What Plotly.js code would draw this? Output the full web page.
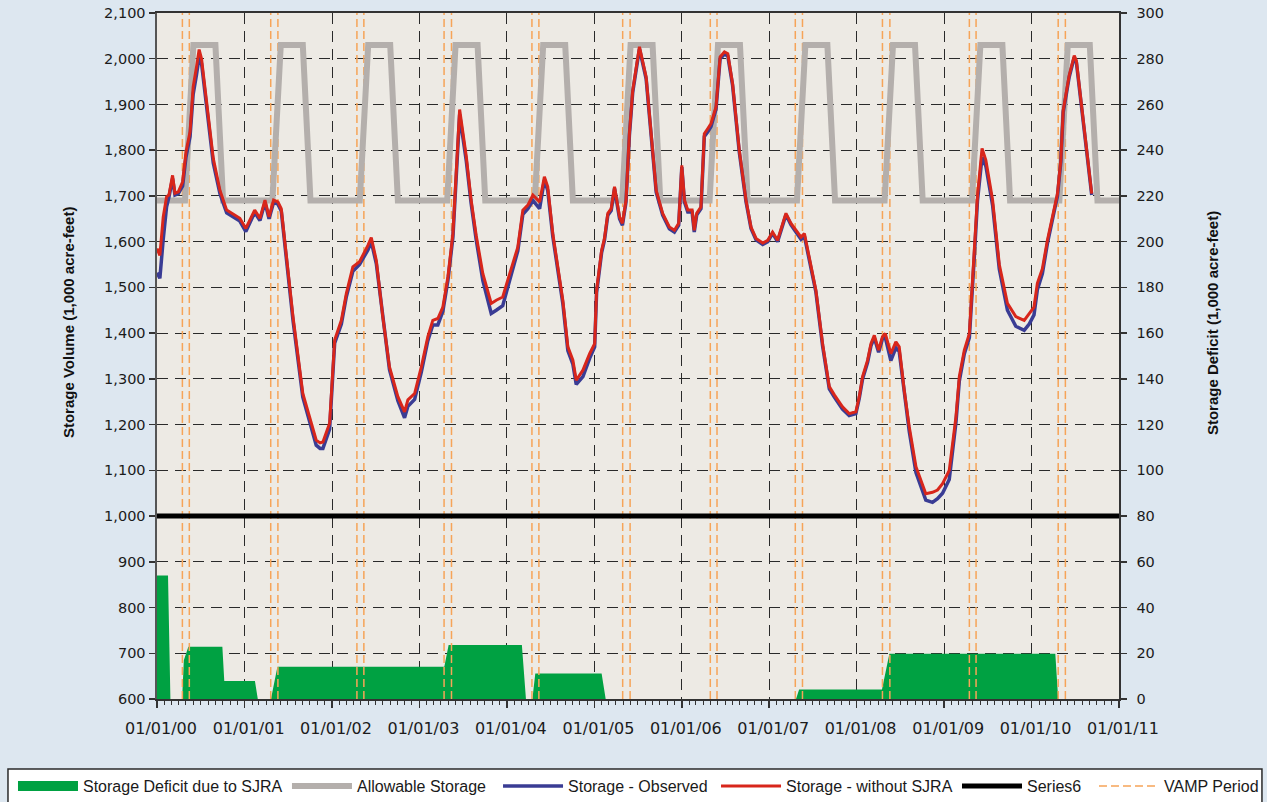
<!DOCTYPE html>
<html><head><meta charset="utf-8">
<script src="https://cdn.plot.ly/plotly-3.0.1.min.js"></script>
<style>html,body{margin:0;padding:0;background:#dde7f0;} #chart{width:1267px;height:802px;}</style>
</head><body><div id="chart"></div>
<script>
// ---------- DATA ----------
const dates = ['2000-01-01','2000-01-13','2000-01-27','2000-02-10','2000-02-20','2000-03-06','2000-03-16','2000-03-30','2000-04-17','2000-05-01','2000-05-18','2000-05-31','2000-06-14','2000-06-25','2000-07-05','2000-07-26','2000-08-23','2000-09-20','2000-10-18','2000-12-12',
'2001-01-06','2001-02-12','2001-03-06','2001-03-27','2001-04-13','2001-05-02','2001-05-20','2001-06-03','2001-06-24','2001-07-22','2001-09-01','2001-09-29','2001-10-27','2001-11-12','2001-11-24','2001-12-22',
'2002-01-12','2002-02-09','2002-03-02','2002-03-29','2002-04-26','2002-05-31','2002-06-14','2002-07-05','2002-08-01','2002-08-29','2002-10-03','2002-10-31','2002-11-14','2002-12-12',
'2003-01-09','2003-02-05','2003-02-26','2003-03-19','2003-04-09','2003-04-30','2003-05-21','2003-06-18','2003-06-25','2003-07-16','2003-08-05','2003-08-26','2003-09-23','2003-10-28','2003-11-18','2003-12-15',
'2004-01-05','2004-01-26','2004-02-16','2004-03-08','2004-03-29','2004-04-19','2004-05-17','2004-06-06','2004-06-20','2004-07-11','2004-07-25','2004-08-22','2004-09-12','2004-10-03','2004-10-17','2004-11-14','2004-12-12',
'2005-01-02','2005-01-10','2005-01-31','2005-02-12','2005-02-26','2005-03-12','2005-03-26','2005-04-16','2005-04-28','2005-05-13','2005-05-27','2005-06-10','2005-06-24','2005-07-08','2005-08-05','2005-08-26','2005-09-16','2005-10-13','2005-11-10','2005-12-01','2005-12-19',
'2006-01-01','2006-01-12','2006-01-26','2006-02-13','2006-02-22','2006-03-04','2006-03-22','2006-04-05','2006-04-19','2006-05-03','2006-05-24','2006-06-10','2006-06-28','2006-07-12','2006-08-01','2006-08-29','2006-09-26','2006-10-17','2006-11-07','2006-12-05','2006-12-26',
'2007-01-15','2007-02-05','2007-02-26','2007-03-12','2007-04-02','2007-04-23','2007-05-14','2007-05-28','2007-06-18','2007-07-15','2007-08-12','2007-09-09','2007-09-30','2007-11-03','2007-12-01','2007-12-29',
'2008-01-12','2008-01-26','2008-02-16','2008-03-01','2008-03-15','2008-04-02','2008-04-18','2008-04-30','2008-05-23','2008-06-13','2008-06-27','2008-07-18','2008-08-08','2008-09-05','2008-10-16','2008-11-13','2008-12-04','2008-12-25',
'2009-01-22','2009-02-19','2009-03-05','2009-03-26','2009-04-16','2009-05-07','2009-05-20','2009-06-08','2009-06-24','2009-07-22','2009-08-19','2009-09-22','2009-10-27','2009-12-01','2009-12-22',
'2010-01-11','2010-01-25','2010-02-15','2010-03-08','2010-03-29','2010-04-19','2010-05-03','2010-05-13','2010-06-07','2010-06-28','2010-07-07','2010-07-26','2010-08-15','2010-09-09'];

const withoutSJRA = [1585,1570,1654,1698,1702,1745,1706,1709,1731,1796,1840,1938,1982,2020,2000,1909,1782,1712,1669,1651,
1629,1669,1651,1691,1654,1691,1687,1672,1567,1436,1268,1217,1166,1160,1162,1203,
1385,1428,1487,1545,1556,1592,1609,1559,1436,1326,1261,1228,1254,1268,
1326,1392,1428,1432,1457,1523,1618,1889,1862,1785,1691,1614,1530,1465,1472,1479,
1516,1552,1588,1669,1680,1702,1687,1742,1720,1618,1570,1472,1370,1341,1297,1319,1355,
1377,1494,1581,1607,1662,1672,1720,1654,1640,1691,1836,1931,1982,2026,1960,1836,1712,1662,1632,1625,1640,
1767,1691,1669,1669,1625,1662,1676,1836,1847,1858,1895,2004,2015,2011,1946,1800,1691,1632,1607,1597,1603,
1621,1603,1640,1662,1640,1625,1610,1618,1567,1494,1377,1283,1265,1239,1224,1228,
1261,1305,1341,1377,1395,1363,1392,1399,1355,1381,1370,1275,1195,1108,1049,1052,1057,1071,
1100,1217,1305,1363,1399,1581,1700,1804,1778,1691,1550,1465,1436,1428,1443,
1457,1509,1541,1603,1654,1705,1778,1887,1964,2007,1996,1909,1822,1705];

const observed = [1532,1520,1605,1676,1698,1738,1702,1705,1722,1785,1830,1922,1965,2004,1990,1898,1772,1705,1663,1645,
1622,1664,1646,1686,1650,1686,1682,1667,1560,1428,1260,1208,1155,1148,1148,1190,
1378,1420,1480,1535,1550,1582,1600,1552,1430,1320,1252,1215,1240,1255,
1315,1383,1418,1418,1448,1515,1610,1878,1852,1776,1684,1605,1515,1443,1450,1460,
1500,1540,1580,1660,1672,1690,1672,1735,1712,1612,1563,1465,1362,1332,1288,1305,1345,
1370,1488,1576,1603,1658,1668,1716,1650,1636,1687,1832,1927,1978,2022,1956,1832,1708,1658,1628,1621,1636,
1763,1687,1665,1665,1621,1658,1672,1830,1840,1852,1890,2000,2010,2006,1942,1796,1688,1629,1604,1594,1600,
1618,1600,1637,1659,1637,1620,1605,1612,1562,1490,1372,1278,1260,1234,1220,1224,
1257,1300,1336,1372,1390,1358,1387,1390,1340,1368,1360,1265,1185,1095,1035,1030,1038,1050,
1080,1205,1295,1355,1390,1570,1690,1785,1765,1680,1540,1450,1415,1406,1420,
1440,1495,1530,1596,1648,1700,1774,1883,1960,2003,1992,1905,1818,1702];

const allowDates = ['2000-01-01',
'2000-04-27','2000-06-01','2000-09-01','2000-10-03',
'2001-04-27','2001-06-01','2001-09-01','2001-10-03',
'2002-04-27','2002-06-01','2002-09-01','2002-10-03',
'2003-04-27','2003-06-01','2003-09-01','2003-10-03',
'2004-04-27','2004-06-01','2004-09-01','2004-10-03',
'2005-04-27','2005-06-01','2005-09-01','2005-10-03',
'2006-04-27','2006-06-01','2006-09-01','2006-10-03',
'2007-04-27','2007-06-01','2007-09-01','2007-10-03',
'2008-04-27','2008-06-01','2008-09-01','2008-10-03',
'2009-04-27','2009-06-01','2009-09-01','2009-10-03',
'2010-04-27','2010-06-01','2010-09-01','2010-10-03',
'2011-01-01'];
const allowVals = [1690,
1690,2030,2030,1690, 1690,2030,2030,1690, 1690,2030,2030,1690, 1690,2030,2030,1690,
1690,2030,2030,1690, 1690,2030,2030,1690, 1690,2030,2030,1690, 1690,2030,2030,1690,
1690,2030,2030,1690, 1690,2030,2030,1690, 1690,2030,2030,1690,
1690];

const deficitDates = ['2000-01-01','2000-02-16','2000-02-26','2000-04-15','2000-04-22','2000-05-11','2000-09-30','2000-10-08','2001-02-13','2001-02-25',
'2001-04-21','2001-05-18','2003-04-15','2003-05-03','2004-03-04','2004-03-21','2004-04-17','2004-04-29','2005-01-31','2005-02-17',
'2007-04-23','2007-05-06','2008-04-16','2008-05-17','2010-04-10','2010-04-22','2011-01-01'];
const deficitVals = [54,54,0,0,17,22.9,22.9,7.9,7.9,0,
0,14.1,14.1,23.6,23.6,0,0,11.2,11.2,0,
0,4.2,4.2,19.8,19.8,0,0];

const vampStart = ['2000-04-16','2001-04-20','2002-04-15','2003-04-14','2004-04-15','2005-04-29','2006-04-30','2007-04-20','2008-04-18','2009-04-16','2010-04-22'];
const vampEnd   = ['2000-05-15','2001-05-20','2002-05-14','2003-05-15','2004-05-14','2005-05-30','2006-05-28','2007-05-20','2008-05-19','2009-05-14','2010-05-22'];

const series6Dates = ['2000-01-01','2011-01-01'];
const series6Vals = [1000,1000];

const volumeRange = [600, 2100];
const deficitRange = [0, 300];
const xRange = ['2000-01-01','2011-01-01'];

const legendNames = ['Storage Deficit due to SJRA','Allowable Storage','Storage - Observed','Storage - without SJRA','Series6','VAMP Period'];

// ---------- BUILD ----------
const vx = [], vy = [];
vampStart.forEach((s, i) => {
  [s, vampEnd[i]].forEach(d => { vx.push(d, d, null); vy.push(volumeRange[0], volumeRange[1], null); });
});

const GREEN = '#00a142';
const traces = [
  {x: deficitDates, y: deficitVals, yaxis: 'y', type: 'scatter', mode: 'lines', fill: 'tozeroy',
   fillcolor: GREEN, line: {color: GREEN, width: 0}, name: legendNames[0], showlegend: false,
   legendgroup: 'def', hoverinfo: 'skip'},
  // legend entry only (wide green swatch like the reference)
  {x: [null], y: [null], yaxis: 'y', type: 'scatter', mode: 'lines', line: {color: GREEN, width: 15},
   name: legendNames[0], legend: 'legend', legendgroup: 'def'},
  {x: vx, y: vy, yaxis: 'y2', type: 'scatter', mode: 'lines', line: {color: '#f6a458', width: 1.5, dash: '8px,4px'},
   name: legendNames[5], legend: 'legend6', connectgaps: false},
  {x: allowDates, y: allowVals, yaxis: 'y2', type: 'scatter', mode: 'lines', line: {color: '#b4afac', width: 6},
   name: legendNames[1], legend: 'legend2'},
  {x: dates, y: observed, yaxis: 'y2', type: 'scatter', mode: 'lines', line: {color: '#3a3c94', width: 3.5},
   name: legendNames[2], legend: 'legend3'},
  {x: dates, y: withoutSJRA, yaxis: 'y2', type: 'scatter', mode: 'lines', line: {color: '#d8261b', width: 3},
   name: legendNames[3], legend: 'legend4'},
  {x: series6Dates, y: series6Vals, yaxis: 'y2', type: 'scatter', mode: 'lines', line: {color: '#000000', width: 5},
   name: legendNames[4], legend: 'legend5'}
];

const legFont = {family: 'Liberation Sans, Arial, sans-serif', size: 16, color: '#1a1a1a'};
function leg(x) {
  return {x: x, y: -0.1268, xanchor: 'left', yanchor: 'middle', orientation: 'h', bgcolor: 'rgba(0,0,0,0)',
          borderwidth: 0, font: legFont, itemwidth: 60, itemclick: false, itemdoubleclick: false};
}

const gridDash = '11px,7px';
const layout = {
  width: 1267, height: 802,
  margin: {l: 157, r: 148, t: 13, b: 103, autoexpand: false},
  paper_bgcolor: '#dde7f0',
  plot_bgcolor: '#edeae4',
  showlegend: true,
  xaxis: {
    type: 'date', range: xRange, tick0: '2000-01-01', dtick: 'M12', tickformat: '%m/%d/%y',
    ticks: 'outside', ticklen: 7, tickwidth: 1.5, tickcolor: '#333',
    minor: {dtick: 'M1', ticks: 'outside', ticklen: 4, tickwidth: 1, tickcolor: '#333', showgrid: false},
    showgrid: true, gridcolor: '#2a2a2a', gridwidth: 1, griddash: gridDash,
    showline: true, linecolor: '#333', linewidth: 2, mirror: true,
    tickfont: {family: 'DejaVu Sans, sans-serif', size: 16, color: '#1b1b1b'},
    ticklabelshift: 4, ticklabelstandoff: 7, zeroline: false, fixedrange: true
  },
  yaxis: {
    side: 'right', range: deficitRange, dtick: 20, tick0: 0,
    ticks: 'outside', ticklen: 6, tickwidth: 1.5, tickcolor: '#333',
    showgrid: true, gridcolor: '#2a2a2a', gridwidth: 1, griddash: gridDash,
    showline: true, linecolor: '#333', linewidth: 1.5, zeroline: false,
    tickfont: {family: 'DejaVu Sans, sans-serif', size: 14.5, color: '#1b1b1b'},
    ticklabelstandoff: 7, fixedrange: true
  },
  yaxis2: {
    side: 'left', overlaying: 'y', range: volumeRange, dtick: 100, tick0: 0, tickformat: ',d',
    ticks: 'outside', ticklen: 6, tickwidth: 1.5, tickcolor: '#333',
    showgrid: false, zeroline: false,
    showline: true, linecolor: '#555', linewidth: 2.5,
    tickfont: {family: 'DejaVu Sans, sans-serif', size: 14.5, color: '#1b1b1b'},
    fixedrange: true
  },
  legend: leg(-0.1497),
  legend2: leg(0.1351),
  legend3: leg(0.3545),
  legend4: leg(0.5811),
  legend5: leg(0.8316),
  legend6: leg(0.9740),
  shapes: [
    {type: 'rect', xref: 'paper', yref: 'paper', x0: -0.1549, x1: 1.1486, y0: -0.17, y1: -0.1020,
     fillcolor: '#ffffff', line: {color: '#2a2a2a', width: 1.5}, layer: 'below'}
  ],
  annotations: [
    {text: 'Storage Volume (1,000 acre-feet)', xref: 'paper', yref: 'paper', x: -0.0925, y: 0.548,
     xanchor: 'center', yanchor: 'middle',
     textangle: -90, showarrow: false, font: {family: 'Liberation Sans, Arial, sans-serif', size: 15, weight: 'bold', color: '#111'}},
    {text: 'Storage Deficit (1,000 acre-feet)', xref: 'paper', yref: 'paper', x: 1.0967, y: 0.548,
     xanchor: 'center', yanchor: 'middle',
     textangle: -90, showarrow: false, font: {family: 'Liberation Sans, Arial, sans-serif', size: 15, weight: 'bold', color: '#111'}}
  ]
};

Plotly.newPlot('chart', traces, layout, {displayModeBar: false, staticPlot: true});
</script>
</body></html>
